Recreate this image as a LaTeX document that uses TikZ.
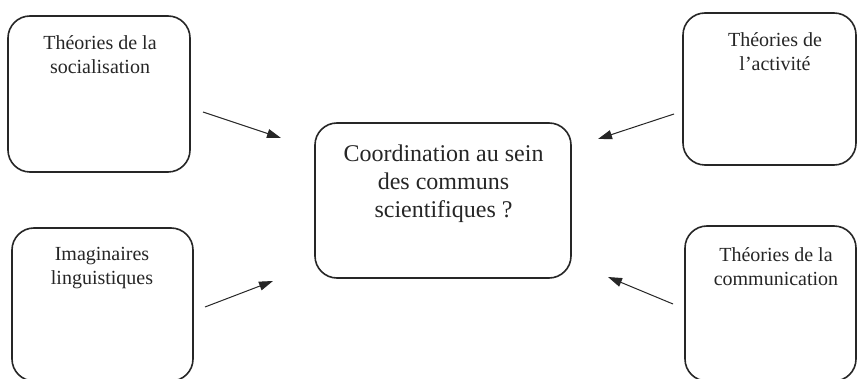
\documentclass[tikz,border=0pt]{standalone}
\usepackage{fontspec}
\setmainfont{Liberation Serif}
\usetikzlibrary{arrows.meta}
\begin{document}
\begin{tikzpicture}[x=1pt,y=-1pt,
  box/.style={draw=black!85, line width=1.6pt, rounded corners=22pt, inner sep=0pt},
  lbl/.style={anchor=north, align=center, inner sep=0pt, font=\fontsize{20}{23.5}\selectfont, text=black!85},
  mainlbl/.style={anchor=north, align=center, inner sep=0pt, font=\fontsize{24}{28}\selectfont, text=black!85},
  arr/.style={draw=black!85, line width=1pt, -{Triangle[length=14pt,width=9pt]}}]
\useasboundingbox (0,0) rectangle (857,379);
\clip (0,0) rectangle (857,379);
\fill[white] (0,0) rectangle (857,379);
% boxes
\node[box, minimum width=182pt, minimum height=156pt] (tl) at (99,94) {};
\node[box, minimum width=181pt, minimum height=153pt] (bl) at (102.5,304.5) {};
\node[box, minimum width=173pt, minimum height=152pt] (tr) at (769.5,89) {};
\node[box, minimum width=171pt, minimum height=155pt] (br) at (770.5,303.5) {};
\node[box, minimum width=256pt, minimum height=155pt] (c) at (443,200.5) {};
% texts
\node[lbl] (tlt) at (100,35.5) {Théories de la\\socialisation};
\node[lbl] (blt) at (102,247.5) {Imaginaires\\linguistiques};
\node[lbl] (trt) at (775,32.5) {Théories de\\l’activité};
\node[lbl] (brt) at (776,247.5) {Théories de la\\communication};
\node[mainlbl] (ct) at (443.5,145) {Coordination au sein\\des communs\\scientifiques ?};
% arrow end points
\coordinate (a1s) at (203,112); \coordinate (a1e) at (281,138);
\coordinate (a2s) at (205,307); \coordinate (a2e) at (273,281);
\coordinate (a3s) at (674,114); \coordinate (a3e) at (598,139);
\coordinate (a4s) at (673,304); \coordinate (a4e) at (608,277);
\draw[arr] (a1s) -- (a1e);
\draw[arr] (a2s) -- (a2e);
\draw[arr] (a3s) -- (a3e);
\draw[arr] (a4s) -- (a4e);
\end{tikzpicture}
\end{document}
